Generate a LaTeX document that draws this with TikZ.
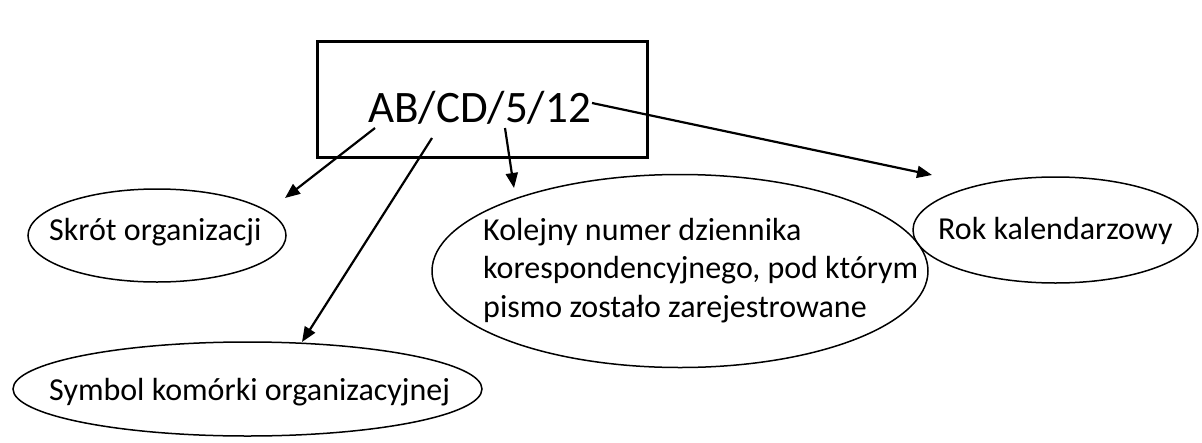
\documentclass[tikz,border=0pt]{standalone}
\usepackage{fontspec}
\setmainfont{Carlito}
\usetikzlibrary{shapes.geometric,arrows.meta}
\begin{document}
\begin{tikzpicture}[x=1pt,y=-1pt,
  oval/.style={draw, ellipse, line width=1.5pt, inner sep=0},
  arr/.style={-{Triangle[length=15pt,width=12pt]}, line width=2.2pt},
  lbl/.style={font=\fontsize{32}{38.5}\selectfont, inner sep=0, anchor=base west}]
\useasboundingbox (0,0) rectangle (1202,442);
\node[draw, line width=3pt, minimum width=330pt, minimum height=116pt, inner sep=0] (box) at (482.5,99.5) {};
\node[font=\fontsize{45}{50}\selectfont, inner sep=0, anchor=base west] (code) at (368,122) {AB/CD/5/12};
\node[oval, minimum width=258pt, minimum height=93pt] (skrot) at (157,235.5) {};
\node[lbl] (skrott) at (49,240) {Skrót organizacji};
\node[oval, minimum width=469pt, minimum height=94pt] (symbol) at (247.5,389) {};
\node[lbl] (symbolt) at (49,400) {Symbol komórki organizacyjnej};
\node[oval, minimum width=496pt, minimum height=193pt] (kolejny) at (680,271) {};
\node[lbl, align=left, anchor=north west] (kolejnyt) at (483,218) {Kolejny numer dziennika\\korespondencyjnego, pod którym\\pismo zostało zarejestrowane};
\node[oval, minimum width=285pt, minimum height=106pt] (rok) at (1055.5,230) {};
\node[lbl] (rokt) at (938,239) {Rok kalendarzowy};
\coordinate (s1) at (375,128); \coordinate (t1) at (285,198);
\coordinate (s2) at (432,138); \coordinate (t2) at (302,342);
\coordinate (s3) at (505,128); \coordinate (t3) at (514,188);
\coordinate (s4) at (592,103); \coordinate (t4) at (932,175);
\draw[arr] (s1) -- (t1);
\draw[arr] (s2) -- (t2);
\draw[arr] (s3) -- (t3);
\draw[arr] (s4) -- (t4);
\end{tikzpicture}
\end{document}
